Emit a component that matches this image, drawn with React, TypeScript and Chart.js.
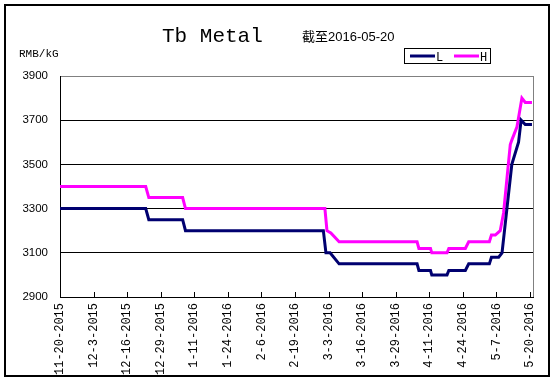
import React, { useEffect, useRef } from "react";
import { Chart, registerables } from "chart.js";

Chart.register(...registerables);

// Day offsets counted from 2015-11-20
const TICK_DAYS = [0, 13, 26, 39, 52, 65, 78, 91, 104, 117, 130, 143, 156, 169, 182];
const TICK_LABELS = [
  "11-20-2015", "12-3-2015", "12-16-2015", "12-29-2015", "1-11-2016",
  "1-24-2016", "2-6-2016", "2-19-2016", "3-3-2016", "3-16-2016",
  "3-29-2016", "4-11-2016", "4-24-2016", "5-7-2016", "5-20-2016",
];

const L_DAYS = [0, 33.2, 34.4, 47.5, 48.6, 102.0, 103.0, 104.6, 108.1, 138.3, 139.0, 143.5, 144.0, 149.9, 150.6, 157.0, 158.3, 166.3, 167.1, 169.9, 171.2, 175.0, 177.6, 178.6, 180.2, 182.8];
const L_VALUES = [3300, 3300, 3250, 3250, 3200, 3200, 3100, 3100, 3050, 3050, 3020, 3020, 3000, 3000, 3020, 3020, 3050, 3050, 3080, 3080, 3100, 3500, 3600, 3700, 3680, 3680];

const H_DAYS = [0, 33.2, 34.4, 47.5, 48.6, 102.6, 103.4, 104.9, 108.1, 138.3, 139.0, 143.5, 144.0, 149.9, 150.6, 157.0, 158.3, 166.3, 167.1, 168.6, 170.5, 171.8, 174.4, 175.0, 177.0, 178.9, 180.2, 182.8];
const H_VALUES = [3400, 3400, 3350, 3350, 3300, 3300, 3200, 3190, 3150, 3150, 3120, 3120, 3100, 3100, 3120, 3120, 3150, 3150, 3180, 3180, 3200, 3280, 3590, 3610, 3670, 3800, 3780, 3780];

const TITLE = "Tb Metal";
const SUBTITLE = "截至2016-05-20";
const UNIT = "RMB/kG";
const L_COLOR = "#000070";
const H_COLOR = "#ff00ff";

const decorPlugin = {
  id: "decor",
  afterDatasetsDraw(chart: any) {
    const ctx = chart.ctx;
    const area = chart.chartArea;
    const xs = chart.scales.x;
    ctx.save();
    ctx.strokeStyle = "#808080";
    ctx.lineWidth = 1;
    ctx.beginPath();
    ctx.moveTo(Math.round(area.right) + 0.5, area.top);
    ctx.lineTo(Math.round(area.right) + 0.5, area.bottom);
    ctx.stroke();
    ctx.strokeStyle = "#000";
    ctx.beginPath();
    TICK_DAYS.forEach((d) => {
      const px = Math.round(xs.getPixelForValue(d)) + 0.5;
      ctx.moveTo(px, area.bottom);
      ctx.lineTo(px, area.bottom - 5);
    });
    ctx.stroke();
    ctx.restore();
  },
  afterDraw(chart: any) {
    const ctx = chart.ctx;
    ctx.save();
    ctx.strokeStyle = "#000";
    ctx.lineWidth = 2;
    ctx.strokeRect(5, 5, 544, 371);
    ctx.fillStyle = "#000";
    ctx.textBaseline = "alphabetic";
    ctx.textAlign = "left";
    ctx.font = "21px 'Liberation Mono', monospace";
    ctx.fillText(TITLE, 162, 42);
    ctx.font = "13px 'Liberation Sans', 'Noto Sans CJK SC', sans-serif";
    ctx.fillText(SUBTITLE, 302, 41);
    ctx.font = "11px 'Liberation Mono', monospace";
    ctx.fillText(UNIT, 19, 57);
    ctx.lineWidth = 1;
    ctx.strokeRect(404.5, 48.5, 86, 15);
    ctx.lineWidth = 3;
    ctx.strokeStyle = L_COLOR;
    ctx.beginPath();
    ctx.moveTo(410, 56);
    ctx.lineTo(435, 56);
    ctx.stroke();
    ctx.strokeStyle = H_COLOR;
    ctx.beginPath();
    ctx.moveTo(454, 56);
    ctx.lineTo(479, 56);
    ctx.stroke();
    ctx.font = "12px 'Liberation Mono', monospace";
    ctx.fillStyle = "#000";
    ctx.fillText(chart.data.datasets[0].label, 436, 61);
    ctx.fillText(chart.data.datasets[1].label, 480, 61);
    ctx.restore();
  },
};

export default function App() {
  const ref = useRef<HTMLCanvasElement | null>(null);
  useEffect(() => {
    if (!ref.current) return;
    const chart = new Chart(ref.current, {
      type: "line",
      data: {
        datasets: [
          {
            label: "L",
            data: L_DAYS.map((d, i) => ({ x: d, y: L_VALUES[i] })),
            borderColor: L_COLOR,
            borderWidth: 3,
            pointRadius: 0,
            tension: 0,
          },
          {
            label: "H",
            data: H_DAYS.map((d, i) => ({ x: d, y: H_VALUES[i] })),
            borderColor: H_COLOR,
            borderWidth: 3,
            pointRadius: 0,
            tension: 0,
          },
        ],
      },
      options: {
        animation: false,
        responsive: false,
        devicePixelRatio: 1,
        layout: { padding: { top: 76, right: 21, left: 0, bottom: 0 } },
        plugins: { legend: { display: false }, title: { display: false }, tooltip: { enabled: false } },
        scales: {
          x: {
            type: "linear",
            min: 0,
            max: 183.2,
            afterFit: (s: any) => { s.height = 84; },
            afterBuildTicks: (s: any) => { s.ticks = TICK_DAYS.map((v) => ({ value: v })); },
            grid: { display: false, drawTicks: false },
            border: { display: true, color: "#000", width: 1 },
            ticks: {
              autoSkip: false,
              minRotation: 90,
              maxRotation: 90,
              padding: 6,
              color: "#000",
              font: { family: "'Liberation Mono', monospace", size: 12 },
              callback: (v: any) => {
                const i = TICK_DAYS.indexOf(Number(v));
                return i >= 0 ? TICK_LABELS[i] : "";
              },
            },
          },
          y: {
            min: 2900,
            max: 3900,
            afterFit: (s: any) => { s.width = 60; },
            grid: {
              drawTicks: false,
              color: (c: any) => (c.tick && c.tick.value === 3900 ? "#808080" : "#000"),
              lineWidth: 1,
            },
            border: { display: true, color: "#000", width: 1 },
            ticks: {
              stepSize: 200,
              padding: 12,
              color: "#000",
              font: { family: "'Liberation Sans', Arial, sans-serif", size: 11.5 },
              callback: (v: any) => String(v),
            },
          },
        },
      },
      plugins: [decorPlugin],
    } as any);
    return () => chart.destroy();
  }, []);
  return (
    <div style={{ position: "fixed", left: 0, top: 0, width: 554, height: 381, background: "#fff" }}>
      <canvas ref={ref} width={554} height={381} style={{ display: "block", width: 554, height: 381 }} />
    </div>
  );
}
